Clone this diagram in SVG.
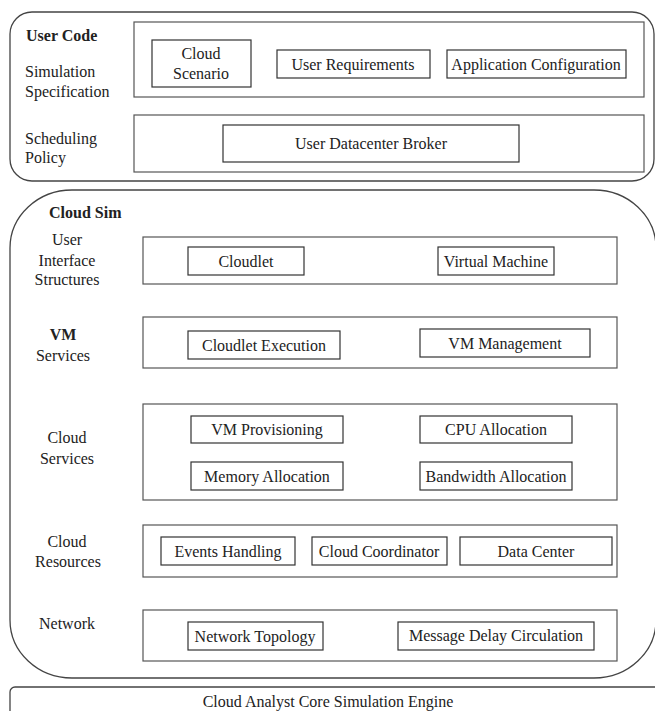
<svg xmlns="http://www.w3.org/2000/svg" width="655" height="711" viewBox="0 0 655 711">
<style>
text{font-family:"Liberation Serif","Times New Roman",serif;font-size:16px;fill:#222}
.b{font-weight:bold}
.m{text-anchor:middle}
.outer{fill:none;stroke:#444;stroke-width:1.3}
.layer{fill:#fff;stroke:#555;stroke-width:1.2}
.item{fill:#fff;stroke:#333;stroke-width:1.2}
</style>
<rect width="655" height="711" fill="#fff"/>
<g id="user-code">
<rect class="outer" x="10" y="12" width="644" height="169" rx="22" ry="22"/>
<text class="b" x="26" y="41">User Code</text>
<text x="25" y="77">Simulation</text>
<text x="25" y="97">Specification</text>
<text x="25" y="144">Scheduling</text>
<text x="25" y="163">Policy</text>
</g>
<g id="simulation-specification">
<rect class="layer" x="134" y="22" width="510" height="75"/>
</g>
<g id="cloud-scenario">
<rect class="item" x="152" y="40" width="99" height="47"/>
<text class="m" x="201" y="59">Cloud</text>
<text class="m" x="201" y="79">Scenario</text>
</g>
<g id="user-requirements">
<rect class="item" x="277" y="50" width="153" height="28"/>
<text class="m" x="353" y="70">User Requirements</text>
</g>
<g id="application-configuration">
<rect class="item" x="447" y="50" width="179" height="28"/>
<text class="m" x="536" y="70">Application Configuration</text>
</g>
<g id="scheduling-policy">
<rect class="layer" x="134" y="115" width="510" height="57"/>
</g>
<g id="user-datacenter-broker">
<rect class="item" x="223" y="125" width="296" height="37"/>
<text class="m" x="371" y="149">User Datacenter Broker</text>
</g>
<g id="cloud-sim">
<rect class="outer" x="10" y="190" width="646" height="488" rx="62" ry="58"/>
<text class="b" x="49" y="218">Cloud Sim</text>
<text class="m" x="67" y="245">User</text>
<text class="m" x="67" y="266">Interface</text>
<text class="m" x="67" y="285">Structures</text>
<text class="m b" x="63" y="340">VM</text>
<text class="m" x="63" y="361">Services</text>
<text class="m" x="67" y="443">Cloud</text>
<text class="m" x="67" y="464">Services</text>
<text class="m" x="67" y="547">Cloud</text>
<text class="m" x="68" y="567">Resources</text>
<text class="m" x="67" y="629">Network</text>
</g>
<g id="ui-structures">
<rect class="layer" x="143" y="237" width="474" height="47"/>
</g>
<g id="cloudlet">
<rect class="item" x="188" y="247" width="116" height="28"/>
<text class="m" x="246" y="267">Cloudlet</text>
</g>
<g id="virtual-machine">
<rect class="item" x="438" y="247" width="116" height="28"/>
<text class="m" x="496" y="267">Virtual Machine</text>
</g>
<g id="vm-services">
<rect class="layer" x="143" y="317" width="474" height="51"/>
</g>
<g id="cloudlet-execution">
<rect class="item" x="188" y="331" width="152" height="28"/>
<text class="m" x="264" y="351">Cloudlet Execution</text>
</g>
<g id="vm-management">
<rect class="item" x="420" y="329" width="170" height="28"/>
<text class="m" x="505" y="349">VM Management</text>
</g>
<g id="cloud-services">
<rect class="layer" x="143" y="404" width="474" height="96"/>
</g>
<g id="vm-provisioning">
<rect class="item" x="191" y="416" width="152" height="27"/>
<text class="m" x="267" y="435">VM Provisioning</text>
</g>
<g id="cpu-allocation">
<rect class="item" x="420" y="416" width="152" height="27"/>
<text class="m" x="496" y="435">CPU Allocation</text>
</g>
<g id="memory-allocation">
<rect class="item" x="191" y="462" width="152" height="28"/>
<text class="m" x="267" y="482">Memory Allocation</text>
</g>
<g id="bandwidth-allocation">
<rect class="item" x="420" y="462" width="152" height="28"/>
<text class="m" x="496" y="482">Bandwidth Allocation</text>
</g>
<g id="cloud-resources">
<rect class="layer" x="143" y="525" width="474" height="52"/>
</g>
<g id="events-handling">
<rect class="item" x="161" y="537" width="134" height="28"/>
<text class="m" x="228" y="557">Events Handling</text>
</g>
<g id="cloud-coordinator">
<rect class="item" x="312" y="537" width="135" height="28"/>
<text class="m" x="379" y="557">Cloud Coordinator</text>
</g>
<g id="data-center">
<rect class="item" x="460" y="537" width="152" height="28"/>
<text class="m" x="536" y="557">Data Center</text>
</g>
<g id="network">
<rect class="layer" x="143" y="610" width="474" height="51"/>
</g>
<g id="network-topology">
<rect class="item" x="188" y="622" width="135" height="28"/>
<text class="m" x="255" y="642">Network Topology</text>
</g>
<g id="message-delay-circulation">
<rect class="item" x="398" y="622" width="196" height="28"/>
<text class="m" x="496" y="641">Message Delay Circulation</text>
</g>
<g id="core-engine">
<rect class="outer" x="10" y="687" width="650" height="40" rx="5" ry="5"/>
<text class="m" x="328" y="707">Cloud Analyst Core Simulation Engine</text>
</g>
<g id="connectors"/>
</svg>
